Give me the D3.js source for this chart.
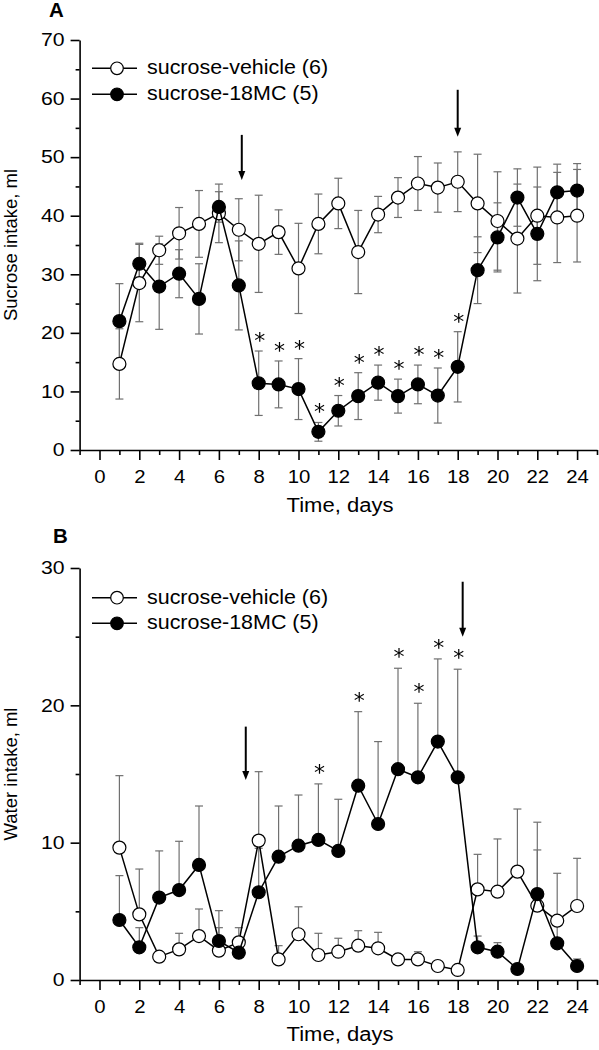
<!DOCTYPE html>
<html><head><meta charset="utf-8">
<script src="https://cdn.jsdelivr.net/npm/d3@7"></script>
<style>
body{margin:0;background:#fff}
svg{display:block}
text{font-family:"Liberation Sans",Arial,Helvetica,sans-serif;fill:#000}
</style>
</head><body>
<svg id="chart" width="599" height="1050"></svg>
<script>
// ---------------- data ----------------
const days = [1,2,3,4,5,6,7,8,9,10,11,12,13,14,15,16,17,18,19,20,21,22,23,24];
const xTickValues = [0,2,4,6,8,10,12,14,16,18,20,22,24];
const xMinorTicks = [-1,1,3,5,7,9,11,13,15,17,19,21,23,25];
const sucroseTicks = [0,10,20,30,40,50,60,70];
const sucroseMinor = [5,15,25,35,45,55,65];
const waterTicks = [0,10,20,30];
const waterMinor = [5,15,25];
const seriesNames = ["sucrose-vehicle (6)", "sucrose-18MC (5)"];

const sucroseVehicle    = [14.7,28.5,34.1,37.0,38.6,40.4,37.6,35.2,37.2,31.0,38.6,42.1,33.8,40.2,43.1,45.5,44.8,45.8,42.1,39.1,36.1,40.0,39.7,40.0];
const sucroseVehicleSem = [6.0,6.6,2.4,4.4,5.7,5.0,5.3,8.3,3.8,7.7,5.1,4.3,7.1,3.1,3.4,4.6,4.2,5.1,8.4,8.4,9.3,8.3,7.7,7.9];
const sucrose18MC       = [22.0,31.8,27.9,30.1,25.8,41.5,28.1,11.4,11.2,10.4,3.1,6.7,9.2,11.5,9.2,11.2,9.3,14.2,30.7,36.3,43.1,36.9,44.0,44.3];
const sucrose18MCSem    = [6.4,3.5,7.3,4.1,6.0,2.6,7.6,5.5,4.0,5.2,1.6,2.6,4.0,3.0,2.9,3.3,4.7,6.0,5.7,5.9,4.9,8.0,4.8,4.6];
const sucroseSigDays    = [8,9,10,11,12,13,14,15,16,17,18];
const sucroseArrows     = [{day:7.15, from:53.8, to:46.1},{day:18.0, from:61.5, to:53.5}];

const waterVehicle    = [9.64,4.78,1.70,2.23,3.20,2.14,2.74,10.15,1.50,3.33,1.82,2.06,2.50,2.31,1.50,1.50,1.02,0.73,6.60,6.43,7.89,5.41,4.32,5.39];
const waterVehicleSem = [5.24,3.3,0.3,1.17,1.97,1.67,1.07,5.02,1.0,2.0,1.58,0.98,1.09,1.16,0.3,0.56,0.31,0.2,2.55,3.84,4.56,4.06,3.45,3.47];
const water18MC       = [4.37,2.38,6.0,6.55,8.38,2.84,1.99,6.39,8.98,9.78,10.2,9.40,14.15,11.36,15.35,14.76,17.36,14.76,2.38,2.06,0.80,6.26,2.67,1.02];
const water18MCSem    = [3.23,1.43,3.4,3.55,4.29,2.21,0.4,3.2,3.69,3.69,4.08,3.76,5.39,6.0,7.35,5.39,6.02,7.87,0.82,0.66,0.2,5.23,1.46,0.51];
const waterSigDays    = [11,13,15,16,17,18];
const waterArrows     = [{day:7.35, from:18.45, to:14.57},{day:18.25, from:29.0, to:25.0}];

// ---------------- drawing ----------------
const svg = d3.select("#chart");
svg.append("defs").append("filter").attr("id","gray")
  .append("feColorMatrix").attr("type","saturate").attr("values","0");
const SX = 1.13;           // horizontal stretch of the original lettering
const x = d3.scaleLinear().domain([-1,25]).range([79.6,597]);

function stretchedText(parent, tx, ty, str, size, opts={}) {
  const t = parent.append("text")
    .attr("transform", `translate(${tx},${ty})${opts.rotate?` rotate(${opts.rotate})`:""} scale(${opts.sx||SX},1)`)
    .attr("font-size", size)
    .attr("text-anchor", opts.anchor || "start")
    .text(str);
  if (opts.bold) t.attr("font-weight","bold");
  if (opts.family) t.style("font-family", opts.family);
  return t;
}

function panel(cfg) {
  const g = svg.append("g");
  const y = d3.scaleLinear().domain(cfg.yDomain).range(cfg.yRange);
  const y0 = cfg.yRange[0];
  const x0 = x(-1);

  // axes
  const xAxis = g.append("g").attr("transform",`translate(0,${y0})`)
    .call(d3.axisBottom(x).tickValues(xTickValues).tickSize(10).tickSizeOuter(0).tickPadding(10).tickFormat(d3.format("d")));
  g.append("g").attr("transform",`translate(0,${y0})`)
    .call(d3.axisBottom(x).tickValues(xMinorTicks).tickSize(5).tickSizeOuter(0).tickFormat(""))
    .call(s=>s.select(".domain").remove());
  const yAxis = g.append("g").attr("transform",`translate(${x0},0)`)
    .call(d3.axisLeft(y).tickValues(cfg.ticks).tickSize(9).tickSizeOuter(0).tickPadding(6).tickFormat(d3.format("d")));
  g.append("g").attr("transform",`translate(${x0},0)`)
    .call(d3.axisLeft(y).tickValues(cfg.minor).tickSize(4).tickSizeOuter(0).tickFormat(""))
    .call(s=>s.select(".domain").remove());
  g.selectAll(".domain, .tick line").attr("stroke","#000").attr("stroke-width",1.6);
  xAxis.selectAll("text").attr("font-size",18).attr("fill","#000")
    .style("font-family",'"Liberation Sans",Arial,sans-serif')
    .attr("transform",`scale(${SX},1)`);
  yAxis.selectAll("text").attr("font-size",18).attr("fill","#000")
    .style("font-family",'"Liberation Sans",Arial,sans-serif')
    .attr("x",-15/1.18).attr("transform","scale(1.18,1)");

  // axis titles
  stretchedText(g, 340, cfg.xTitleY, "Time, days", 19.5, {anchor:"middle"});
  stretchedText(g, 17, (cfg.yRange[0]+cfg.yRange[1])/2, cfg.yTitle, 18.5, {anchor:"middle", rotate:-90, sx:1});
  stretchedText(g, cfg.letterX, cfg.letterY, cfg.letter, 19.5, {bold:true, sx:1.05});

  const series = cfg.series;
  // error bars
  series.forEach(s => {
    const eb = g.append("g").attr("stroke","#707070").attr("stroke-width",1.2).attr("fill","none");
    days.forEach((d,i) => {
      const cx = x(d);
      const top = y(s.values[i] + s.sem[i]);
      const bot = cfg.bothSides ? y(s.values[i] - s.sem[i]) : y(s.values[i]);
      eb.append("line").attr("x1",cx).attr("x2",cx).attr("y1",top).attr("y2",bot);
      eb.append("line").attr("x1",cx-4).attr("x2",cx+4).attr("y1",top).attr("y2",top);
      if (cfg.bothSides) eb.append("line").attr("x1",cx-4).attr("x2",cx+4).attr("y1",bot).attr("y2",bot);
    });
  });
  // lines + markers
  const line = d3.line().x((d)=>x(d[0])).y(d=>y(d[1]));
  series.forEach(s => {
    const pts = days.map((d,i)=>[d, s.values[i]]);
    g.append("path").attr("d", line(pts)).attr("fill","none").attr("stroke","#000").attr("stroke-width",1.5);
    g.selectAll(null).data(pts).join("circle")
      .attr("cx",d=>x(d[0])).attr("cy",d=>y(d[1])).attr("r",6.5)
      .attr("fill",s.fill).attr("stroke","#000").attr("stroke-width",1.2);
  });

  // significance asterisks (on the 18MC series)
  const sig = series[1];
  const ag = g.append("g").attr("filter","url(#gray)");
  cfg.sigDays.forEach(d => {
    const i = days.indexOf(d);
    const cy = y(sig.values[i] + sig.sem[i]) - cfg.sigOffset;
    ag.append("text").attr("x", x(d)+1).attr("y", cy + 11)
      .attr("text-anchor","middle").attr("font-size",22).attr("fill","#111")
      .style("font-family","DejaVu Sans, sans-serif").text("*");
  });

  // arrows
  cfg.arrows.forEach(a => {
    const ax = x(a.day), ya = y(a.from), yb = y(a.to);
    const head = 9, hw = 3.5;
    g.append("line").attr("x1",ax).attr("x2",ax).attr("y1",ya).attr("y2",yb-head+1)
      .attr("stroke","#000").attr("stroke-width",2);
    g.append("path").attr("d",`M${ax-hw},${yb-head}L${ax+hw},${yb-head}L${ax},${yb}Z`).attr("fill","#000");
  });

  // legend
  series.forEach((s,k) => {
    const ly = cfg.legendY + k*cfg.legendGap;
    g.append("line").attr("x1",92).attr("x2",137).attr("y1",ly).attr("y2",ly)
      .attr("stroke","#000").attr("stroke-width",1.5);
    g.append("circle").attr("cx",117).attr("cy",ly).attr("r",6.3)
      .attr("fill",s.fill).attr("stroke","#000").attr("stroke-width",1.2);
    stretchedText(g, 147, ly+5.8, seriesNames[k], 19.5, {sx:1.1});
  });
}

panel({
  yDomain:[0,70], yRange:[450,40], ticks:sucroseTicks, minor:sucroseMinor,
  yTitle:"Sucrose intake, ml", xTitleY:512, letter:"A", letterX:49, letterY:17,
  series:[{values:sucroseVehicle, sem:sucroseVehicleSem, fill:"#fff"},
          {values:sucrose18MC, sem:sucrose18MCSem, fill:"#000"}],
  bothSides:true, sigDays:sucroseSigDays, sigOffset:14, arrows:sucroseArrows,
  legendY:68.3, legendGap:26
});
panel({
  yDomain:[0,30], yRange:[980,568], ticks:waterTicks, minor:waterMinor,
  yTitle:"Water intake, ml", xTitleY:1041, letter:"B", letterX:53, letterY:543,
  series:[{values:waterVehicle, sem:waterVehicleSem, fill:"#fff"},
          {values:water18MC, sem:water18MCSem, fill:"#000"}],
  bothSides:false, sigDays:waterSigDays, sigOffset:15, arrows:waterArrows,
  legendY:597.7, legendGap:25.6
});
</script>
</body></html>
